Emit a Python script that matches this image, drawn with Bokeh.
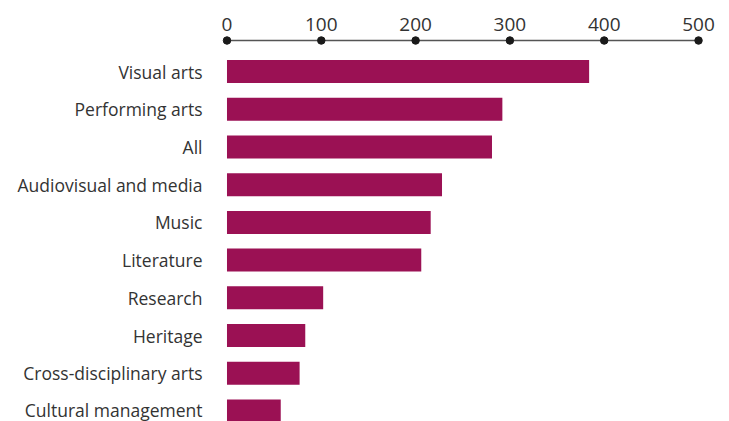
from bokeh.plotting import figure
from bokeh.models import FixedTicker, Range1d, ColumnDataSource
from bokeh.embed import file_html
from bokeh.resources import INLINE

categories = ["Visual arts", "Performing arts", "All", "Audiovisual and media", "Music",
              "Literature", "Research", "Heritage", "Cross-disciplinary arts", "Cultural management"]
values = [384, 292, 281, 228, 216, 206, 102, 83, 77, 57]
x_ticks = [0, 100, 200, 300, 400, 500]

n = len(categories)
ys = [n - i - 0.5 for i in range(n)]

BAR = "#9B1154"
TXT = "#333333"
FONT = "Open Sans"

frame_h = 388
y_start, y_end = 0.2215, 10.508
px_per_unit = frame_h / (y_end - y_start)
axis_y = y_end - 7 / px_per_unit

p = figure(width=721, height=421, output_backend="svg", toolbar_location=None,
           x_range=Range1d(-9, 518), y_range=Range1d(y_start, y_end),
           x_axis_location="above",
           min_border_left=218, min_border_right=6, min_border_top=33, min_border_bottom=0)

src = ColumnDataSource(dict(y=ys, v=values, cat=categories))
p.hbar(y="y", right="v", left=0, height=0.61, source=src, color=BAR, line_color=None)

p.line(x=[x_ticks[0], x_ticks[-1]], y=[axis_y, axis_y], line_color="#555555", line_width=1.5)
p.scatter(x=x_ticks, y=[axis_y] * len(x_ticks), size=7.5, color="#1a1a1a")

p.xaxis.ticker = FixedTicker(ticks=x_ticks)
p.xaxis.axis_line_color = None
p.xaxis.major_tick_line_color = None
p.xaxis.minor_tick_line_color = None
p.xaxis.major_tick_out = 0
p.xaxis.major_tick_in = 0
p.xaxis.major_label_standoff = 3
p.xaxis.major_label_text_font = FONT
p.xaxis.major_label_text_font_size = "19px"
p.xaxis.major_label_text_color = TXT

p.yaxis.ticker = FixedTicker(ticks=ys)
p.yaxis.major_label_overrides = {y: c for y, c in zip(ys, categories)}
p.yaxis.axis_line_color = None
p.yaxis.major_tick_line_color = None
p.yaxis.minor_tick_line_color = None
p.yaxis.major_tick_out = 0
p.yaxis.major_tick_in = 0
p.yaxis.major_label_standoff = 16
p.yaxis.major_label_text_font = FONT
p.yaxis.major_label_text_font_size = "17.5px"
p.yaxis.major_label_text_color = TXT

p.xgrid.grid_line_color = None
p.ygrid.grid_line_color = None
p.outline_line_color = None

open("out.html", "w").write(file_html(p, INLINE))
